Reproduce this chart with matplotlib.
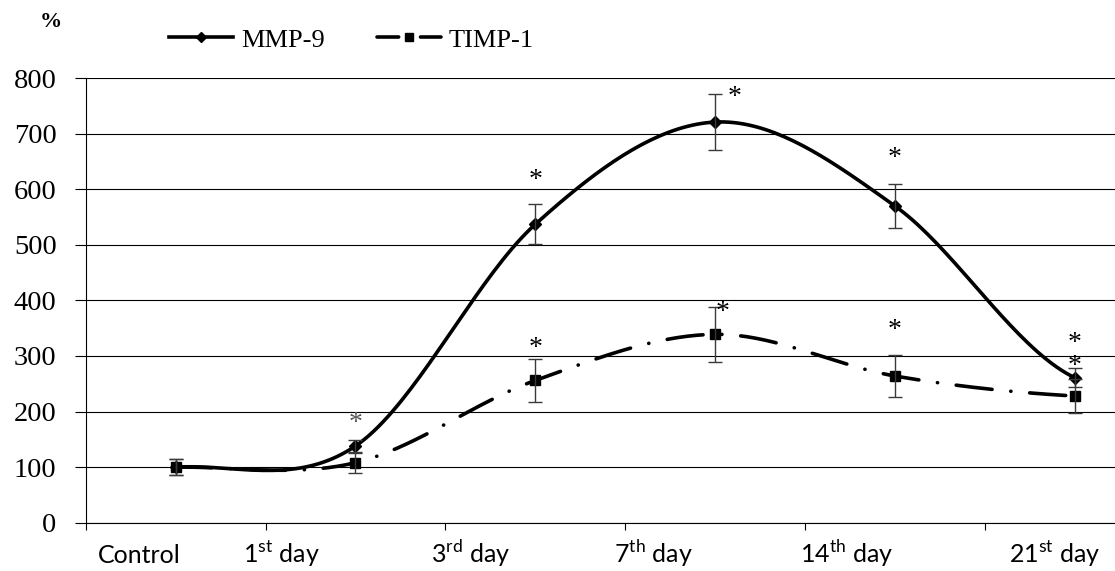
import numpy as np
import matplotlib
matplotlib.use("Agg")
import matplotlib.pyplot as plt
from matplotlib.lines import Line2D

# data (values in % of control)
CATEGORIES = ["Control", r"1$^{\mathregular{st}}$ day", r"3$^{\mathregular{rd}}$ day",
              r"7$^{\mathregular{th}}$ day", r"14$^{\mathregular{th}}$ day", r"21$^{\mathregular{st}}$ day"]
MMP9 = [100, 138, 537, 721, 570, 261]
MMP9_ERR = [15, 10, 36, 50, 39, 17]
MMP9_SIG = [False, True, True, True, True, True]
TIMP1 = [100, 108, 256, 339, 264, 228]
TIMP1_ERR = [15, 18, 38, 50, 38, 30]
TIMP1_SIG = [False, False, True, True, True, True]

# layout only: where the category labels sit (they are off-centre in the original)
LABEL_POS = [-0.2, 0.59, 1.64, 2.66, 3.73, 4.89]
# asterisk offsets above the error bar (x in category units, y in %)
MMP9_STAR = [(0, 0), (0, 31), (0, 43), (0.11, -5), (0, 46), (0, 44)]
TIMP1_STAR = [(0, 0), (0, 0), (0, 19), (0.04, -11), (0, 44), (0, 23)]

SERIF = "Liberation Serif"
SANS = "Lato"


def smooth(y, n=40):
    # excel-like smoothed line: bezier segments with catmull-rom control points
    y = np.asarray(y, dtype=float)
    x = np.arange(len(y), dtype=float)
    xs, ys = [], []
    for i in range(len(y) - 1):
        y0 = y[i - 1] if i > 0 else y[i]
        y3 = y[i + 2] if i + 2 < len(y) else y[i + 1]
        c1 = y[i] + (y[i + 1] - y0) / 6
        c2 = y[i + 1] - (y3 - y[i]) / 6
        t = np.linspace(0, 1, n)
        b = ((1 - t) ** 3 * y[i] + 3 * (1 - t) ** 2 * t * c1
             + 3 * (1 - t) * t ** 2 * c2 + t ** 3 * y[i + 1])
        xs.append(x[i] + t)
        ys.append(b)
    return np.concatenate(xs), np.concatenate(ys)


def main():
    fig = plt.figure(figsize=(11.15, 5.71), dpi=100)
    ax = fig.add_axes([0.0769, 0.0846, 0.9231, 0.7785])

    x = np.arange(len(CATEGORIES))
    dash = (10, 5.2, 0.05, 5.2)

    # timp-1
    tx, ty = smooth(TIMP1)
    ax.plot(tx, ty, color="black", lw=2.6, dashes=dash, dash_capstyle="round", zorder=3)
    ax.plot(x, TIMP1, "s", color="black", ms=7, zorder=4)
    ax.errorbar(x, TIMP1, yerr=TIMP1_ERR, fmt="none", ecolor="#3a3a3a",
                elinewidth=1, capsize=5, capthick=1, zorder=5)

    # mmp-9
    mx, my = smooth(MMP9)
    ax.plot(mx, my, color="black", lw=2.6, solid_capstyle="round", zorder=3)
    ax.plot(x, MMP9, "D", color="black", ms=6, zorder=4)
    ax.errorbar(x, MMP9, yerr=MMP9_ERR, fmt="none", ecolor="#3a3a3a",
                elinewidth=1, capsize=5, capthick=1, zorder=5)

    # significance marks
    for i in range(len(x)):
        if MMP9_SIG[i]:
            dx, dy = MMP9_STAR[i]
            col = "#555555" if i == 1 else "black"
            ax.text(x[i] + dx, MMP9[i] + MMP9_ERR[i] + dy, "*", ha="center", va="center",
                    fontsize=20, family=SERIF, color=col, zorder=6)
        if TIMP1_SIG[i]:
            dx, dy = TIMP1_STAR[i]
            ax.text(x[i] + dx, TIMP1[i] + TIMP1_ERR[i] + dy, "*", ha="center", va="center",
                    fontsize=20, family=SERIF, color="black", zorder=6)

    ax.set_ylim(0, 800)
    ax.set_xlim(-0.5, 5.224)
    ax.set_yticks(range(0, 801, 100))
    ax.set_yticklabels([str(v) for v in range(0, 801, 100)], family=SERIF, fontsize=20.5)
    ax.yaxis.grid(True, color="black", lw=0.8)
    ax.set_axisbelow(True)
    ax.yaxis.set_tick_params(which="major", length=8, width=0.8, pad=13, direction="out")

    ax.set_xticks(np.arange(-0.5, 5.3, 1.0))
    ax.set_xticklabels([])
    ax.set_xticks(LABEL_POS, minor=True)
    ax.set_xticklabels(CATEGORIES, minor=True, family=SANS, fontsize=18)
    ax.tick_params(axis="x", which="major", length=5, width=0.8, direction="out")
    ax.tick_params(axis="x", which="minor", length=0, pad=29)
    # same baseline for every label, superscript or not
    for lab in ax.get_xticklabels(minor=True):
        lab.set_verticalalignment("baseline")

    for s in ["top", "right"]:
        ax.spines[s].set_visible(False)
    for s in ["left", "bottom"]:
        ax.spines[s].set_linewidth(0.8)

    handles = [
        Line2D([], [], color="black", lw=2.6, marker="D", ms=5),
        Line2D([], [], color="black", lw=2.6, dashes=(6, 3, 0.05, 3),
               dash_capstyle="round", marker="s", ms=6),
    ]
    fig.legend(handles, ["MMP-9", "TIMP-1"], loc="center left", bbox_to_anchor=(0.152, 0.93),
               ncol=2, frameon=False, handlelength=2.4, columnspacing=2.0, handletextpad=0.3,
               borderaxespad=0, borderpad=0, prop={"family": SERIF, "size": 19})

    fig.text(0.036, 0.962, "%", family=SERIF, fontsize=16, fontweight="bold", ha="left", va="center")

    fig.savefig("out.png", dpi=100)


if __name__ == "__main__":
    main()
